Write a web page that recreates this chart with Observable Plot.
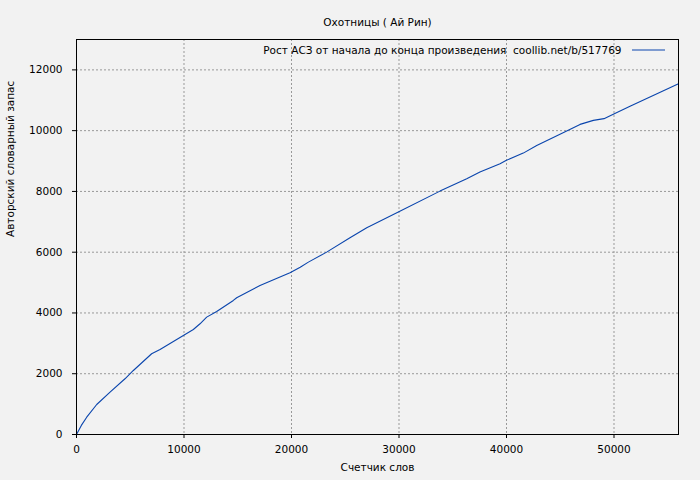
<!DOCTYPE html>
<html>
<head>
<meta charset="utf-8">
<script src="https://cdn.jsdelivr.net/npm/d3@7"></script>
<script src="https://cdn.jsdelivr.net/npm/@observablehq/plot@0.6"></script>
<style>
  html, body { margin: 0; padding: 0; background: #f2f2f2; }
  svg { display: block; }
</style>
</head>
<body>
<div id="chart"></div>
<script>
const title = "Охотницы ( Ай Рин)";
const xLabel = "Счетчик слов";
const yLabel = "Авторский словарный запас";
const legendLabel = "Рост АСЗ от начала до конца произведения  coollib.net/b/517769";

const words = [0, 450, 950, 1880, 3120, 4510, 5290, 6990, 7770, 9940, 10870, 11490, 12110, 13040, 14590, 14900, 17070, 19860, 20810, 21570, 23270, 25440, 27000, 30030, 33810, 36300, 37530, 39400, 39950, 41560, 42810, 45600, 46840, 48080, 49070, 50030, 51490, 56000];
const vocab = [0, 300, 570, 988, 1393, 1834, 2107, 2657, 2798, 3259, 3457, 3644, 3863, 4049, 4412, 4500, 4905, 5322, 5507, 5673, 6002, 6476, 6805, 7342, 8010, 8418, 8636, 8912, 9020, 9261, 9514, 9986, 10206, 10338, 10395, 10559, 10800, 11546];

const xTicks = [0, 10000, 20000, 30000, 40000, 50000];
const yTicks = [0, 2000, 4000, 6000, 8000, 10000, 12000];

const data = words.map((w, i) => ({x: w, y: vocab[i]}));
const lineColor = "#0a45ad";

const legendSample = (index, scales, values, dims) => {
  const g = d3.create("svg:g");
  const xr = dims.width - dims.marginRight;
  const yt = dims.marginTop;
  g.append("line")
    .attr("x1", xr - 46).attr("x2", xr - 13)
    .attr("y1", yt + 11).attr("y2", yt + 11)
    .attr("stroke", lineColor).attr("stroke-width", 1);
  return g.node();
};

const chart = Plot.plot({
  width: 700,
  height: 480,
  marginLeft: 76,
  marginRight: 22,
  marginTop: 39,
  marginBottom: 46,
  style: {background: "#f2f2f2", fontFamily: "DejaVu Sans", fontSize: "10.5px", color: "#000"},
  x: {domain: [0, 56000], label: null},
  y: {domain: [0, 13000], label: null},
  marks: [
    Plot.gridX(xTicks, {stroke: "#999", strokeOpacity: 1, strokeDasharray: "2,2"}),
    Plot.gridY(yTicks, {stroke: "#999", strokeOpacity: 1, strokeDasharray: "2,2"}),
    Plot.line(data, {x: "x", y: "y", stroke: lineColor, strokeWidth: 1.1}),
    Plot.frame({stroke: "#000", strokeWidth: 1}),
    Plot.axisX(xTicks, {tickSize: 4, tickPadding: 7, tickFormat: d => String(d), label: null, stroke: "#000"}),
    Plot.axisY(yTicks, {tickSize: 4, tickPadding: 10, tickFormat: d => String(d), label: null, stroke: "#000"}),
    Plot.text([title], {frameAnchor: "top", dy: -21, fill: "#000"}),
    Plot.text([xLabel], {frameAnchor: "bottom", dy: 36, fill: "#000"}),
    Plot.text([yLabel], {frameAnchor: "left", dx: -66, rotate: -90, fill: "#000"}),
    Plot.text([legendLabel], {frameAnchor: "top-right", dx: -57, dy: 11, textAnchor: "end", lineAnchor: "middle", fill: "#000"}),
    legendSample
  ]
});
document.getElementById("chart").appendChild(chart);
</script>
</body>
</html>
